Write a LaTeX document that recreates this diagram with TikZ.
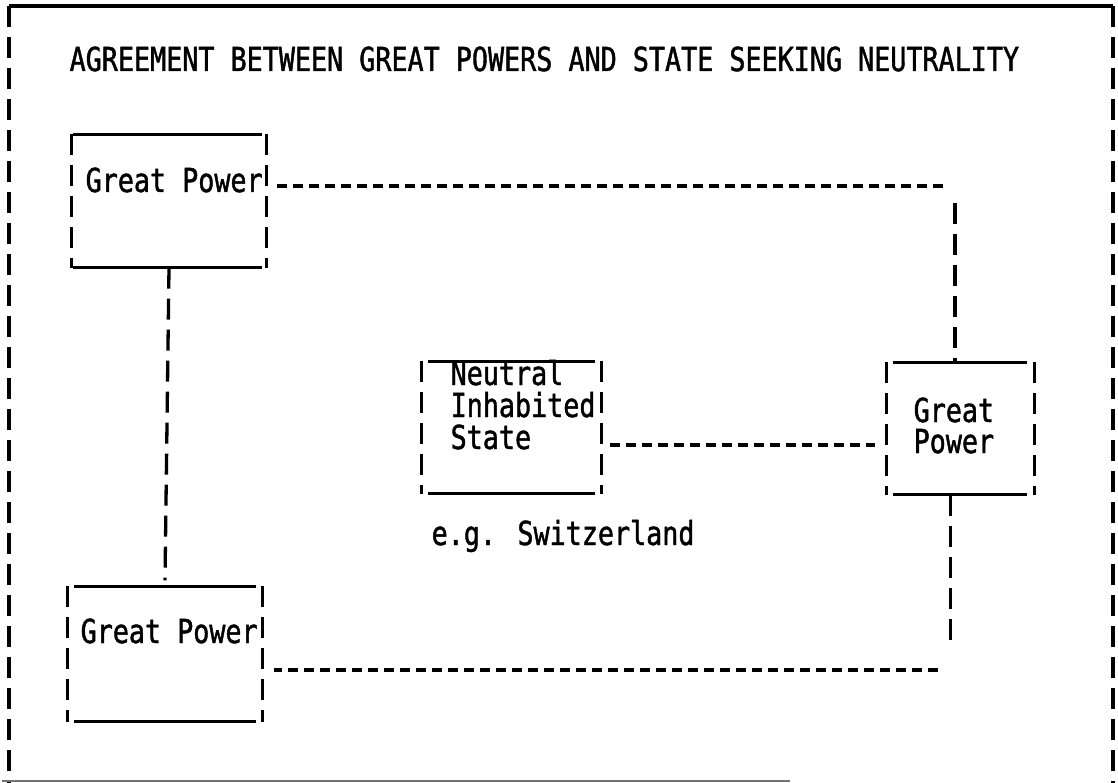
\documentclass[tikz,border=0pt]{standalone}
\usepackage{fontspec}
\newfontfamily\tw[FakeStretch=0.81,FakeBold=1.3]{DejaVu Sans Mono}
\begin{document}
\begin{tikzpicture}[x=1pt,y=-1pt,line width=3.3pt,
  vdash/.style={dash pattern=on 21pt off 10pt},
  hdash/.style={dash pattern=on 10pt off 6pt},
  txt/.style={font=\tw\fontsize{33}{33}\selectfont,anchor=base west,inner sep=0pt},
  boxn/.style={draw=none,inner sep=0pt,rectangle}]
\useasboundingbox (0,0) rectangle (1118,783);
% outer frame
\coordinate (tl) at (9,6);
\coordinate (tr) at (1113,6);
\coordinate (bl) at (9,783);
\coordinate (br) at (1113,783);
\coordinate (bm) at (790,781);
\draw (tl) -- (tr);
\draw[vdash] (tl) -- (bl);
\draw[vdash] (tr) -- (br);
\draw[black!55,line width=2.5pt] (2,781) -- (bm);
% title
\node[txt] (title) at (68,71) {AGREEMENT BETWEEN GREAT POWERS AND STATE SEEKING NEUTRALITY};
% boxes
\node[boxn,minimum width=192pt,minimum height=130pt] (gp1) at (169,201) {};
\node[boxn,minimum width=145pt,minimum height=129pt] (gp2) at (960.5,428.5) {};
\node[boxn,minimum width=177pt,minimum height=129pt] (neu) at (511.5,427.5) {};
\node[boxn,minimum width=192pt,minimum height=132pt] (gp3) at (165,654) {};
\foreach \b/\l/\r in {gp1/2/5,gp2/7/8,neu/7/7,gp3/7/7}{
  \draw ([xshift=\l pt]\b.north west) -- ([xshift=-\r pt]\b.north east);
  \draw ([xshift=\l pt]\b.south west) -- ([xshift=-\r pt]\b.south east);
  \draw[vdash] (\b.north west) -- (\b.south west);
  \draw[vdash] (\b.north east) -- (\b.south east);
}
% texts
\node[txt] (gp1t) at (84,192) {Great Power};
\node[txt] (gp2a) at (912,422) {Great};
\node[txt] (gp2b) at (912,453) {Power};
\node[txt] (neu1) at (449,385) {Neutral};
\node[txt] (neu2) at (449,417) {Inhabited};
\node[txt] (neu3) at (449,449) {State};
\node[txt] (gp3t) at (79,643) {Great Power};
\node[txt] (eg) at (430,545) {e.g. Switzerland};
% connectors
\coordinate (c1) at (945,187);
\coordinate (c2) at (955,203);
\draw[hdash] ([xshift=10pt]gp1.east |- gp1t.base) ++(0,-6) coordinate (c0) -- (c0 -| c1);
\draw[vdash] (c2) -- (c2 |- gp2.north);
\draw[vdash] (gp1.south) -- ([yshift=6pt]gp3.north);
\draw[hdash] ([xshift=8pt]neu.east |- gp2b.base) ++(0,-8) coordinate (n0) -- ([xshift=-11pt]n0 -| gp2.west);
\coordinate (c3) at (950,647);
\coordinate (c4) at (938,670);
\draw[vdash] ([xshift=-10pt]gp2.south) -- ([xshift=-10pt]gp2.south |- c3);
\draw[hdash] (c4) -- ([xshift=11pt]gp3.east |- c4);
\end{tikzpicture}
\end{document}
